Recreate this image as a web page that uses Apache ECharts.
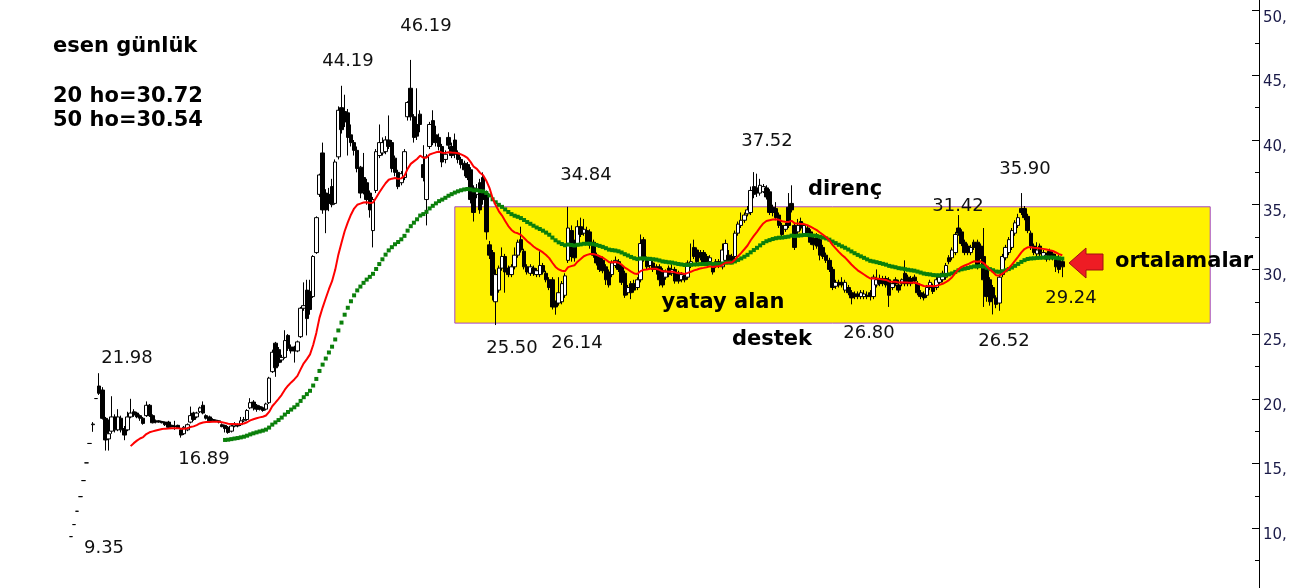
<!DOCTYPE html>
<html><head><meta charset="utf-8">
<script src="https://cdn.jsdelivr.net/npm/echarts@6/dist/echarts.min.js"></script>
<style>html,body{margin:0;padding:0;background:#fff}#c{width:1302px;height:588px}</style>
</head><body><div id="c"></div><script>
// candles: [open, close, low, high]
const ipoDays = [
[9.35,9.35,9.35,9.35],[10.28,10.28,10.28,10.28],[11.31,11.31,11.31,11.31],[12.44,12.44,12.44,12.44],
[13.68,13.68,13.68,13.68],[15.05,15.05,15.05,15.05],[16.55,16.55,16.55,16.55],[18.0,18.05,17.45,18.2],
[20.02,20.02,20.02,20.02]];
const baseDays = [
[20.99,20.43,20.3,21.98],[20.68,18.49,18.4,20.9],[18.49,16.82,16.0,18.6],[16.9,17.3,16.0,18.4],
[17.5,18.6,17.3,20.2],[18.6,17.6,17.4,18.8],[17.6,18.6,17.5,19.2],[18.5,17.6,17.4,18.7],
[17.7,17.2,16.8,17.9],[17.6,18.6,17.5,19.0],[18.6,18.9,18.5,20.0],[19.0,18.75,18.6,19.2],
[18.9,18.6,18.5,19.0],[18.7,18.5,18.3,18.8],[18.5,18.1,18.0,18.6],[18.7,19.5,18.6,19.8],
[19.5,18.7,18.6,19.6],[18.7,18.15,18.1,18.8],[18.3,18.2,18.1,18.4],[18.3,18.2,18.15,18.35],
[18.25,18.15,18.1,18.3],[18.2,18.0,17.9,18.25],[18.2,17.8,17.75,18.3],[17.95,17.85,17.8,18.0],
[17.9,17.85,17.6,18.3],[17.95,17.75,17.7,18.0],[17.6,17.2,17.0,17.7],[17.3,17.8,17.2,17.9],
[17.6,18.0,17.5,18.1],[18.2,18.7,18.1,19.4],[18.9,18.4,18.3,19.0],[18.6,18.9,18.5,19.0],
[19.0,19.3,18.9,19.4],[19.5,18.9,18.8,19.8],[18.7,18.5,18.4,18.8],[18.6,18.3,18.2,18.7],
[18.4,18.3,18.2,18.5],[18.35,18.25,18.2,18.4],[18.3,18.2,18.1,18.35],[18.0,17.85,17.8,18.1],
[17.95,17.7,17.4,18.0],[17.8,17.4,17.3,17.9],[17.5,17.9,17.4,18.0],[17.9,18.0,17.8,18.2],
[18.0,17.9,17.8,18.1],[18.0,18.3,17.9,18.6],[18.3,18.4,18.2,18.6]];
const rallyDays = [
[18.4,19.1,18.3,19.2],[19.3,19.7,19.2,20.05],[19.75,19.3,19.1,19.9],[19.5,19.2,19.0,19.6],
[19.4,19.2,19.1,19.5],[19.3,19.1,19.0,19.4],[19.2,19.6,19.1,19.7],[19.7,21.6,19.6,21.7],
[22.1,23.6,22.0,23.8],[24.3,22.4,21.7,24.4],[23.8,22.8,22.5,24.0],[23.0,23.2,22.8,23.4],
[23.2,24.5,23.1,25.3],[24.9,23.9,23.7,25.0],[24.0,23.7,23.5,24.2],[24.0,23.7,22.8,24.1],
[23.7,24.4,23.6,24.5],[24.8,27.0,24.7,27.1],[27.0,27.2,26.8,29.0],[28.4,26.2,24.9,29.2],
[28.3,26.9,26.5,29.2],[27.9,31.0,27.8,31.1],[31.3,34.0,31.2,34.1],[35.8,37.3,35.6,37.4],
[39.0,34.6,34.3,39.8],[35.9,34.6,32.8,36.2],[35.8,35.1,34.5,36.3],[36.4,35.0,34.8,37.0]];
const peakDays = [
[35.1,38.3,35.0,38.5],[38.7,42.3,38.5,42.6],[42.5,40.8,40.5,44.19],[42.2,41.4,41.0,43.5],
[42.1,40.2,38.8,42.4],[40.4,39.8,39.5,41.2],[39.8,39.2,38.8,40.0],[39.2,37.8,37.5,39.5],
[37.9,35.9,35.5,38.0],[37.1,36.0,35.8,39.0],[36.7,35.4,35.0,37.0],[35.9,34.6,34.0,36.1],
[33.0,35.4,31.7,35.6],[36.1,39.1,35.9,39.3],[38.8,39.8,38.6,41.2],[39.0,39.8,38.8,40.2],
[39.1,40.0,38.9,40.3],[40.0,39.5,39.3,41.9],[39.8,37.8,37.5,40.0],[38.6,37.5,37.2,38.8],
[37.5,36.4,36.2,37.7],[36.7,37.4,36.5,37.6],[37.1,39.1,36.9,39.3],[41.8,42.9,41.5,43.0],
[44.0,41.8,41.5,46.19],[41.8,40.2,39.8,42.0],[41.2,40.3,40.0,44.0],[42.0,41.2,40.6,42.3],
[38.1,37.1,36.8,39.6],[35.4,38.7,33.4,38.9],[39.5,41.2,39.3,41.4],[41.5,39.8,39.6,42.3],
[40.4,39.8,39.5,41.1],[40.2,39.5,39.2,40.5],[39.5,38.3,37.9,39.7],[38.5,38.9,38.2,39.2],
[40.2,39.6,39.3,40.6],[39.5,38.8,38.6,39.8],[40.0,38.9,38.6,40.5],[39.0,38.5,38.2,39.2],
[38.5,38.1,37.8,38.7],[38.2,37.7,37.2,38.4],[38.1,37.1,36.9,38.3],[37.7,35.4,35.1,37.9],
[36.3,34.4,33.7,36.5],[35.8,36.2,35.5,36.6],[36.7,34.6,34.3,37.0],[37.1,35.4,35.0,37.5],
[35.9,32.9,32.3,36.1]];
const rangeDaysA = [
[31.9,31.1,30.8,32.2],[31.3,28.0,27.6,31.5],[27.5,29.6,25.7,30.0],[28.4,30.1,28.2,30.3],
[30.1,31.0,29.9,31.7],[31.0,29.8,28.2,31.2],[30.1,29.6,29.4,30.3],[29.6,30.2,29.4,30.4],
[30.2,31.1,30.0,31.7],[31.1,32.1,30.9,32.3],[32.3,31.5,31.3,33.3],[31.4,30.2,30.0,31.6],
[30.2,29.8,29.6,30.4],[29.7,30.2,29.5,30.4],[30.1,29.7,29.5,30.3],[29.6,29.9,29.4,30.1],
[29.6,30.3,29.4,31.4],[30.3,29.8,29.6,30.5],[29.7,29.2,29.0,29.9],[29.2,28.6,28.4,29.4],
[29.2,27.1,26.9,29.4],[27.4,27.1,26.5,27.6],[27.4,28.2,27.2,29.4],[27.5,28.9,27.3,29.1],
[28.0,29.5,27.8,29.7],[30.7,33.2,30.5,34.84],[33.0,31.0,30.6,33.4],[32.0,30.9,30.6,32.3],
[32.0,33.3,31.8,33.8],[33.3,32.7,32.5,34.0],[32.8,33.1,32.6,33.9],[33.0,32.1,31.9,33.3],
[32.9,31.9,31.6,33.1],[32.1,31.1,30.9,32.3],[31.1,30.5,30.3,31.3],[30.9,30.0,29.8,31.1],
[30.7,29.9,29.7,31.0],[30.2,29.2,28.8,30.4],[29.8,28.8,28.6,30.0],[29.6,30.5,29.4,30.7],
[30.3,30.7,30.1,31.0],[30.6,30.0,29.8,30.8],[30.2,29.0,28.8,30.4],[29.7,28.0,27.8,29.9],
[28.2,28.6,28.0,28.8],[28.9,28.2,27.7,29.1],[28.9,28.4,28.2,29.2],[28.6,29.2,28.4,29.4]];
const rangeDaysB = [
[29.2,32.0,29.0,32.7],[32.3,30.9,30.6,32.5],[30.7,30.2,30.0,31.0],[30.3,30.7,30.1,30.9],
[30.5,30.0,29.8,30.7],[30.2,30.0,29.6,30.4],[30.2,29.2,28.7,30.4],[29.9,28.8,28.6,30.1],
[29.4,29.8,29.2,30.0],[30.1,29.6,29.4,30.3],[29.7,30.0,29.5,30.4],[30.0,29.1,28.9,30.2],
[29.7,29.1,28.9,29.9],[29.2,29.6,29.0,29.8],[29.5,29.2,29.0,29.7],[29.4,30.5,29.2,30.7],
[30.3,30.6,30.1,32.0],[31.7,31.0,30.8,32.3],[31.5,30.6,30.4,31.7],[31.3,30.9,30.7,31.5],
[31.3,30.5,30.3,31.5],[31.0,30.6,30.4,31.2],[30.6,30.9,30.4,31.1],[30.3,29.8,29.6,30.5],
[30.3,30.6,30.1,30.8],[30.6,30.3,30.1,30.8],[30.2,31.5,30.0,32.0],[30.7,32.0,30.5,32.3],
[31.1,30.7,30.5,31.5],[31.0,30.6,30.4,31.2],[31.0,32.8,30.8,33.0],[32.8,33.5,32.6,33.7],
[33.4,33.8,33.2,34.4],[33.8,34.2,33.6,34.4],[34.3,34.6,34.1,34.9],[34.4,36.1,34.2,36.4],
[36.4,35.8,35.5,37.52],[36.3,35.9,35.6,37.4],[35.9,36.5,35.7,37.0],[36.0,36.4,35.9,36.6],
[36.3,35.6,35.4,36.5],[36.0,34.4,34.2,36.2],[34.8,34.4,34.1,35.0],[34.7,34.0,33.8,35.2],
[34.2,33.4,33.2,34.4],[33.4,32.7,32.5,33.6],[33.1,33.4,32.9,33.6],[34.8,33.4,33.2,35.9],
[35.1,34.6,34.4,36.5],[33.4,31.7,31.5,33.6],[32.9,33.4,32.7,33.9],[33.7,33.2,33.0,34.0],
[32.7,33.4,32.5,33.6],[33.2,32.7,32.5,33.4],[32.9,32.1,31.9,33.1],[32.4,31.9,31.5,32.6],
[32.6,31.8,31.6,32.8],[32.3,31.1,30.7,32.5],[31.7,31.0,30.8,31.9],[31.1,30.7,30.5,31.3],
[30.7,30.0,29.8,30.9],[30.0,28.6,28.4,30.2],[28.7,29.0,28.5,29.2],[29.0,28.8,28.6,29.2],
[29.0,28.8,28.6,29.4],[28.4,29.0,28.2,29.2],[28.6,28.2,28.0,28.8],[28.2,27.8,27.3,28.4],
[28.1,27.9,27.7,28.3],[28.1,27.9,27.7,28.3],[27.9,28.2,27.7,28.4],[27.9,28.1,27.7,28.4],
[28.0,27.9,27.7,28.3],[28.2,27.9,27.6,28.4],[27.9,29.4,27.7,29.6],[28.8,29.2,28.6,30.0],
[29.3,28.9,28.7,29.6],[29.3,28.9,28.7,29.5],[29.3,28.8,28.6,29.5],[29.2,28.0,27.1,29.4]];
const rangeDaysC = [
[28.6,28.9,28.4,29.1],[29.2,28.9,28.7,29.4],[28.8,28.4,28.2,29.2],[28.9,29.2,28.7,29.3],
[29.7,28.9,28.7,30.7],[29.4,28.9,28.7,29.6],[29.3,28.9,28.7,29.5],[29.4,29.1,28.9,29.6],
[28.9,28.2,28.0,29.1],[28.2,27.9,27.7,28.4],[28.1,27.8,27.6,28.3],[28.0,28.6,27.8,28.8],
[28.6,29.0,28.4,29.2],[28.7,28.3,28.1,28.9],[28.6,29.2,28.4,29.4],[29.0,29.4,28.8,29.6],
[29.2,29.7,29.0,29.9],[29.4,30.3,29.2,30.5],[30.9,30.6,30.4,31.1],[30.9,31.5,30.7,31.7],
[31.3,32.7,31.1,32.9],[33.2,32.8,32.6,34.2],[32.9,32.0,31.8,33.1],[32.1,31.3,31.1,32.3],
[31.8,31.3,31.1,32.0],[31.3,31.7,31.1,31.9],[32.1,31.7,31.5,32.3],[32.1,30.2,30.0,32.3],
[31.8,31.0,30.8,32.0],[31.0,29.2,27.1,33.2],[30.1,27.9,27.5,30.3],[29.2,27.5,27.2,29.4],
[28.6,27.8,26.52,28.8],[27.8,27.3,27.0,28.0],[27.4,29.4,26.8,29.6],[29.6,31.0,29.4,31.2],
[30.9,31.7,30.7,31.9],[31.3,32.3,31.1,32.5],[31.7,33.0,31.5,33.2],[32.8,33.6,32.6,33.8],
[33.4,34.0,33.2,34.3],[34.7,34.4,34.2,35.9],[34.7,34.0,33.8,34.9],[34.1,33.0,32.8,34.3],
[32.8,31.8,31.5,33.0],[31.8,31.3,31.1,32.0],[31.2,31.5,31.0,32.1],[31.8,31.2,31.0,32.0],
[30.9,31.3,30.8,31.5],[30.8,31.1,30.6,31.3],[31.4,30.9,30.7,31.6],[31.2,30.9,30.7,31.4],
[31.0,30.2,29.8,31.2],[30.9,30.0,29.7,31.1],[30.6,30.2,29.4,30.8]];
const yTickValues = [10, 15, 20, 25, 30, 35, 40, 45, 50];
const yMinorTickValues = [7.5, 12.5, 17.5, 22.5, 27.5, 32.5, 37.5, 42.5, 47.5];
const rangeBox = {top: 34.84, bottom: 25.85};

const candles = [].concat(ipoDays, baseDays, rallyDays, peakDays, rangeDaysA, rangeDaysB, rangeDaysC);
const LEAD = 22, SLOTS = 400;
const categories = [];
for (let k = 0; k < SLOTS; k++) {
  const d = k - LEAD;
  categories.push(d >= 0 && d < candles.length ? String(d + 1) : '');
}
const closes = candles.map(c => c[1]);
// exponential moving average, started from the first close, drawn from bar n
function ema(vals, n) {
  const out = []; let prev = vals[0]; const a = 2 / (n + 1);
  for (let i = 0; i < vals.length; i++) {
    if (i > 0) prev = prev + a * (vals[i] - prev);
    out.push(i < n - 1 ? '-' : +prev.toFixed(3));
  }
  return out;
}
function pad(arr, empty) {
  const out = [];
  for (let k = 0; k < SLOTS; k++) {
    const d = k - LEAD;
    out.push(d >= 0 && d < arr.length ? arr[d] : empty);
  }
  return out;
}
const ema20 = pad(ema(closes, 20), '-');
const ema50 = pad(ema(closes, 50), '-');
const candleData = pad(candles, '-');
const boxStart = LEAD + 122, boxEnd = LEAD + 362;

const chart = echarts.init(document.getElementById('c'), null, {renderer: 'canvas'});
const FONT = '"DejaVu Sans", Verdana, sans-serif';
function txt(x, y, text, bold, size, align) {
  return {type: 'text', x: x, y: y, z: 100, style: {text: text, font: (bold ? 'bold ' : '') + size + 'px ' + FONT,
    fill: bold ? '#000' : '#111', align: align || 'center', verticalAlign: 'middle'}};
}
const Y_MIN = 5.38, Y_MAX = 50.82;
chart.setOption({
  animation: false,
  backgroundColor: '#fff',
  grid: {left: 0, right: 43, top: 0, bottom: 0, containLabel: false},
  xAxis: {type: 'category', data: categories, show: false, boundaryGap: true},
  yAxis: [{
    type: 'value', position: 'right', min: Y_MIN, max: Y_MAX,
    axisLine: {show: true, onZero: false, lineStyle: {color: '#000', width: 1}},
    axisTick: {show: true, inside: true, length: 7, customValues: yTickValues, lineStyle: {color: '#000'}},
    splitLine: {show: false},
    axisLabel: {show: true, margin: 4, color: '#1a1a48', fontFamily: FONT, fontSize: 15,
      verticalAlign: 'top', lineHeight: 14, customValues: yTickValues,
      formatter: v => v + ','}
  }, {
    type: 'value', position: 'right', min: Y_MIN, max: Y_MAX,
    axisLine: {show: false},
    axisTick: {show: true, inside: true, length: 4, customValues: yMinorTickValues, lineStyle: {color: '#000'}},
    splitLine: {show: false},
    axisLabel: {show: false}
  }],
  series: [
    {type: 'line', data: [], z: 1, silent: true,
     markArea: {silent: true, itemStyle: {color: '#fff200', borderColor: '#a448c8', borderWidth: 1},
       data: [[{xAxis: boxStart, yAxis: rangeBox.top}, {xAxis: boxEnd, yAxis: rangeBox.bottom}]]}},
    {type: 'candlestick', data: candleData, z: 3, barWidth: 4,
     itemStyle: {color: '#fff', color0: '#000', borderColor: '#000', borderColor0: '#000', borderWidth: 1}},
    {type: 'line', data: ema50, z: 4, symbol: 'rect', symbolSize: 4, showSymbol: true, showAllSymbol: true,
     itemStyle: {color: '#0a7f0a'}, lineStyle: {width: 0, opacity: 0}},
    {type: 'line', data: ema20, z: 5, showSymbol: false, lineStyle: {color: '#ff0000', width: 2}}
  ],
  graphic: [
    txt(53, 47, 'esen günlük', true, 21, 'left'),
    txt(53, 97, '20 ho=30.72', true, 21, 'left'),
    txt(53, 121, '50 ho=30.54', true, 21, 'left'),
    txt(348, 61, '44.19', false, 18),
    txt(426, 26, '46.19', false, 18),
    txt(127, 358, '21.98', false, 18),
    txt(204, 459, '16.89', false, 18),
    txt(104, 548, '9.35', false, 18),
    txt(586, 175, '34.84', false, 18),
    txt(512, 348, '25.50', false, 18),
    txt(577, 343, '26.14', false, 18),
    txt(767, 141, '37.52', false, 18),
    txt(958, 206, '31.42', false, 18),
    txt(1025, 169, '35.90', false, 18),
    txt(869, 333, '26.80', false, 18),
    txt(1004, 341, '26.52', false, 18),
    txt(1071, 298, '29.24', false, 18),
    txt(845, 190, 'direnç', true, 21),
    txt(723, 303, 'yatay alan', true, 21),
    txt(772, 340, 'destek', true, 21),
    txt(1115, 262, 'ortalamalar', true, 21, 'left'),
    {type: 'polygon', z: 100, shape: {points: [[1069,263],[1086,248],[1086,254],[1103,254],[1103,270],[1086,270],[1086,278]]},
     style: {fill: '#ee1c24', stroke: '#a01010', lineWidth: 1}}
  ]
});
</script></body></html>
